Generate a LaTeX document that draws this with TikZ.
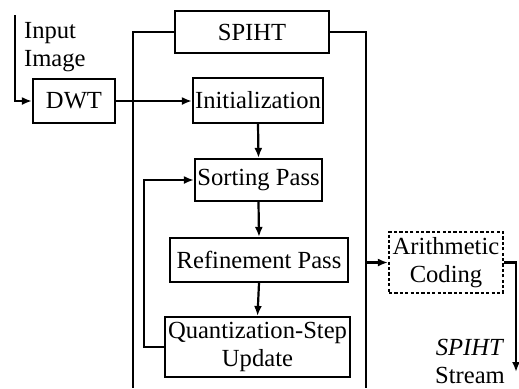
\documentclass[tikz,border=0pt]{standalone}
\usepackage{fontspec}
\setmainfont{Liberation Serif}
\usepackage{tikz}
\usetikzlibrary{positioning, arrows.meta, calc}

\begin{document}
\begin{tikzpicture}[x=0.5pt, y=-0.5pt, line width=1.1pt,
        >={Latex[length=5pt,width=4pt]},
        every node/.style={font=\fontsize{12.3}{14}\selectfont, inner sep=1pt},
        blockbox/.style={draw, rectangle, line width=1.1pt, align=center},
        dotbox/.style={draw, rectangle, line width=1.1pt, align=center, dash pattern=on 1.6pt off 1.1pt}]
        \useasboundingbox (0,0) rectangle (519,388);
        \node[blockbox, minimum width=77pt, minimum height=21pt] (spiht) at (252,32) {SPIHT};
        \node[blockbox, minimum width=41pt, minimum height=22pt] (dwt) at (74,101) {DWT};
        \node[blockbox, minimum width=65pt, minimum height=22.5pt] (init) at (258,100.5) {Initialization};
        \node[blockbox, minimum width=63.5pt, minimum height=21pt] (sort) at (258.5,180) {Sorting Pass};
        \node[blockbox, minimum width=89pt, minimum height=22pt] (refine) at (259,260) {Refinement Pass};
        \node[blockbox, minimum width=92.5pt, minimum height=30pt] (quant) at (257.5,347) {Quantization-Step\\Update};
        \node[dotbox, minimum width=57pt, minimum height=30.5pt] (arith) at (446,262.5) {Arithmetic\\Coding};
        \node[align=left, anchor=north west] (input) at (21,19) {Input\\Image};
        \node[align=center] (stream) at (470,361) {\textit{SPIHT}\\Stream};
        \coordinate (intop) at (15,15);
        \coordinate (lbot) at (133,388);
        \coordinate (rbot) at (366,388);
        \coordinate (outend) at (516,372);
        \draw[->] (intop) |- (dwt.west);
        \draw[->] (dwt.east) -- (dwt.east -| init.west);
        \draw (spiht.west) -| (lbot);
        \draw (spiht.east) -| (rbot);
        \draw[->] (init.south) -- (sort.north);
        \draw[->] (sort.south) -- (refine.north);
        \draw[->] (refine.south) -- (quant.north);
        \draw[->] (quant.west) -- ++(-20,0) |- (sort.west);
        \draw[->] (rbot |- arith.west) -- (arith.west);
        \draw[->] (arith.east) -| (outend);
      \end{tikzpicture}
\end{document}
